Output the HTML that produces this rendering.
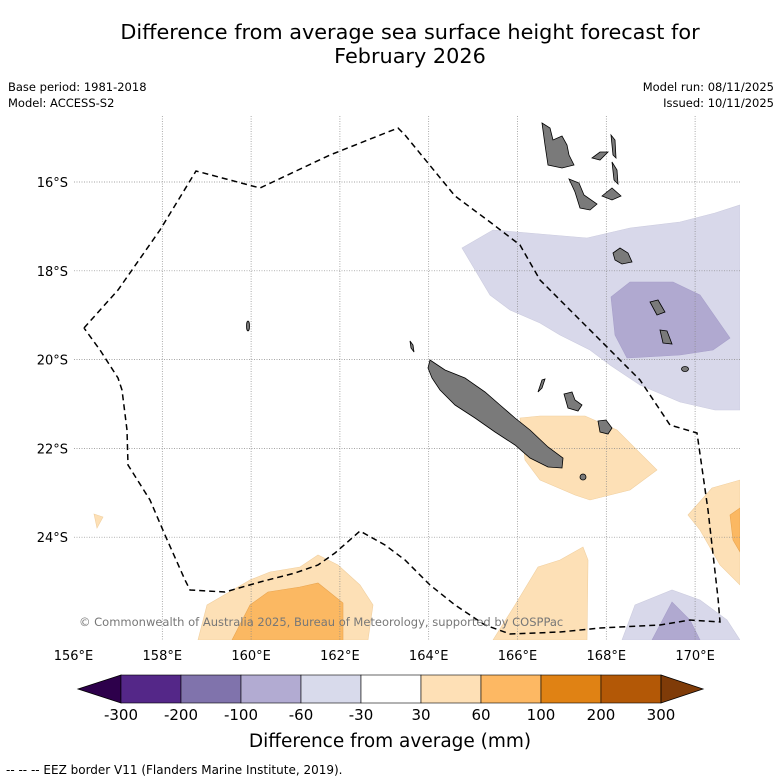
<!DOCTYPE html>
<html><head><meta charset="utf-8"><style>
body{margin:0;background:#fff;font-family:"DejaVu Sans","Liberation Sans",sans-serif}
#w{position:relative;width:781px;height:781px;overflow:hidden}
</style></head><body>
<div id="w">
<svg width="781" height="781" viewBox="0 0 781 781" font-family="DejaVu Sans, Liberation Sans, sans-serif">
<text x="410" y="39" text-anchor="middle" font-size="20.8">Difference from average sea surface height forecast for</text>
<text x="410" y="63" text-anchor="middle" font-size="20.8">February 2026</text>
<text x="8" y="91" font-size="11.5">Base period: 1981-2018</text>
<text x="8" y="107" font-size="11.5">Model: ACCESS-S2</text>
<text x="774" y="91" font-size="11.5" text-anchor="end">Model run: 08/11/2025</text>
<text x="774" y="107" font-size="11.5" text-anchor="end">Issued: 10/11/2025</text>
<defs><clipPath id="mc"><rect x="74" y="116" width="666" height="524"/></clipPath></defs>
<g clip-path="url(#mc)">
<g stroke-width="0.6">
<polygon fill="#d8d8ea" stroke="#ccccdf" points="462,248 493,230 540,234 587,238 630,228 680,222 715,213 740,205 740,410 715,410 680,402 640,385 610,365 590,350 560,335 540,323 510,310 490,295"/>
<polygon fill="#b0a9d0" stroke="#a79fca" points="611,297 630,282 673,282 700,295 730,338 713,350 680,355 627,358 615,335"/>
<polygon fill="#fde0b6" stroke="#f0cf9f" points="520,418 540,416 585,416 617,430 657,470 630,490 590,500 575,495 540,480 525,460"/>
<polygon fill="#fde0b6" stroke="#f0cf9f" points="688,515 712,488 740,480 740,585 720,565 700,530"/>
<polygon fill="#fbb862" stroke="#e9a550" points="730,515 740,508 740,552 733,540"/>
<polygon fill="#fde0b6" stroke="#f0cf9f" points="198,640 207,605 250,580 270,572 300,567 318,555 338,565 360,585 373,605 368,640"/>
<polygon fill="#fbb862" stroke="#e9a550" points="232,640 250,605 268,592 300,587 318,583 343,603 343,640"/>
<polygon fill="#fde0b6" stroke="#f0cf9f" points="493,640 515,605 538,567 560,560 583,547 588,560 587,640"/>
<polygon fill="#d8d8ea" stroke="#ccccdf" points="622,640 635,605 672,590 700,600 727,620 740,640"/>
<polygon fill="#b0a9d0" stroke="#a79fca" points="652,640 672,602 690,620 700,640"/>
<polygon fill="#fde0b6" stroke="#f0cf9f" points="94,514 103,517 97,528"/>
</g>
<g id="grid" stroke="#888" stroke-width="0.7" stroke-dasharray="1,1.5"></g>
<g fill="#7a7a7a" stroke="#000" stroke-width="0.8">
<polygon points="430,360 445,370 465,378 485,392 500,405 515,418 530,430 548,447 563,458 562,468 548,467 530,458 515,445 495,432 475,418 455,405 440,390 432,378 428,368"/>
<polygon points="542,123 550,128 553,140 562,136 567,145 569,155 574,165 562,168 548,165 545,145"/>
<polygon points="569,179 579,183 584,195 597,204 590,210 580,208 575,192"/>
<polygon points="602,196 612,188 621,196 612,200"/>
<polygon points="592,158 600,152 608,152 600,160"/>
<polygon points="611,135 615,140 616,158 613,155"/>
<polygon points="612,162 617,170 618,184 614,180"/>
<polygon points="613,253 620,248 628,253 632,262 622,264 615,260"/>
<polygon points="564,394 572,392 575,400 582,405 578,411 568,408"/>
<polygon points="598,421 606,420 612,428 608,434 600,432"/>
<polygon points="650,302 658,300 665,312 657,315"/>
<polygon points="660,330 667,331 672,344 663,343"/>
<ellipse cx="685" cy="369" rx="3.5" ry="2.5"/>
<ellipse cx="583" cy="477" rx="3" ry="3"/>
<ellipse cx="248" cy="326" rx="1.5" ry="5"/>
<polygon points="538,392 542,380 545,379 542,388"/>
<polygon points="410,341 413,345 414,352 411,348"/>
</g>
<polyline fill="none" stroke="#000" stroke-width="1.5" stroke-dasharray="6,4" points="84,328 118,290 160,230 196,171 260,188 330,155 398,128 405,135 455,196 490,222 520,245 540,280 575,315 615,355 640,380 670,425 697,433 708,510 718,598 720,622 690,620 660,625 600,628 560,632 510,634 485,625 455,605 430,585 405,560 385,545 360,531 335,553 318,565 295,573 260,582 225,592 190,590 185,580 165,535 150,500 128,465 127,430 122,390 118,378 100,350 84,328"/>
<text x="79" y="626" font-size="11.5" fill="#777">© Commonwealth of Australia 2025, Bureau of Meteorology, supported by COSPPac</text>
</g>
<g id="axes" font-size="13"></g>
<g id="cbar"></g>
<text x="390" y="747" text-anchor="middle" font-size="18.5">Difference from average (mm)</text>
<text x="6" y="774" font-size="12">--  --  -- EEZ border V11 (Flanders Marine Institute, 2019).</text>
</svg>
</div>
<script>
const lonTicks=[156,158,160,162,164,166,168,170];
const latTicks=[16,18,20,22,24];
const levels=["-300","-200","-100","-60","-30","30","60","100","200","300"];
const colors=["#542788","#8073ac","#b2abd2","#d8daeb","#ffffff","#fee0b6","#fdb863","#e08214","#b35806"];
const NS="http://www.w3.org/2000/svg";
const x=lon=>73.5+(lon-156)*44.4;
const y=lat=>182+(lat-16)*44.4;
const grid=document.getElementById('grid'),axes=document.getElementById('axes'),cb=document.getElementById('cbar');
function mk(t,a,p){const e=document.createElementNS(NS,t);for(const k in a)e.setAttribute(k,a[k]);p.appendChild(e);return e;}
lonTicks.forEach(l=>{
 const g=mk('line',{x1:x(l),x2:x(l),y1:116,y2:640},grid);
 
 
 const t=mk('text',{x:x(l),y:660,'text-anchor':'middle'},axes);t.textContent=l+'°E';
 
 
});
latTicks.forEach(l=>{
 const g=mk('line',{x1:74,x2:740,y1:y(l),y2:y(l)},grid);
 
 
 const t=mk('text',{x:68,y:y(l)+5,'text-anchor':'end'},axes);t.textContent=l+'°S';
 
 
});
const c0=121,cw=60,cy=675,ch=28;
let p=mk('polygon',{points:`78,${cy+ch/2} ${c0},${cy} ${c0},${cy+ch}`,fill:'#2d004b',stroke:'#000','stroke-width':0.8},cb);


colors.forEach((c,i)=>{
 const r=mk('rect',{x:c0+i*cw,y:cy,width:cw,height:ch,fill:c,stroke:'#000','stroke-width':0.6},cb);
 
 
});
const ce=c0+colors.length*cw;
p=mk('polygon',{points:`${ce},${cy} ${ce+42},${cy+ch/2} ${ce},${cy+ch}`,fill:'#7f3b08',stroke:'#000','stroke-width':0.8},cb);


levels.forEach((l,i)=>{
 const t=mk('text',{x:c0+i*cw,y:720,'text-anchor':'middle','font-size':15},cb);t.textContent=l;
 
 
});
</script>
</body></html>
